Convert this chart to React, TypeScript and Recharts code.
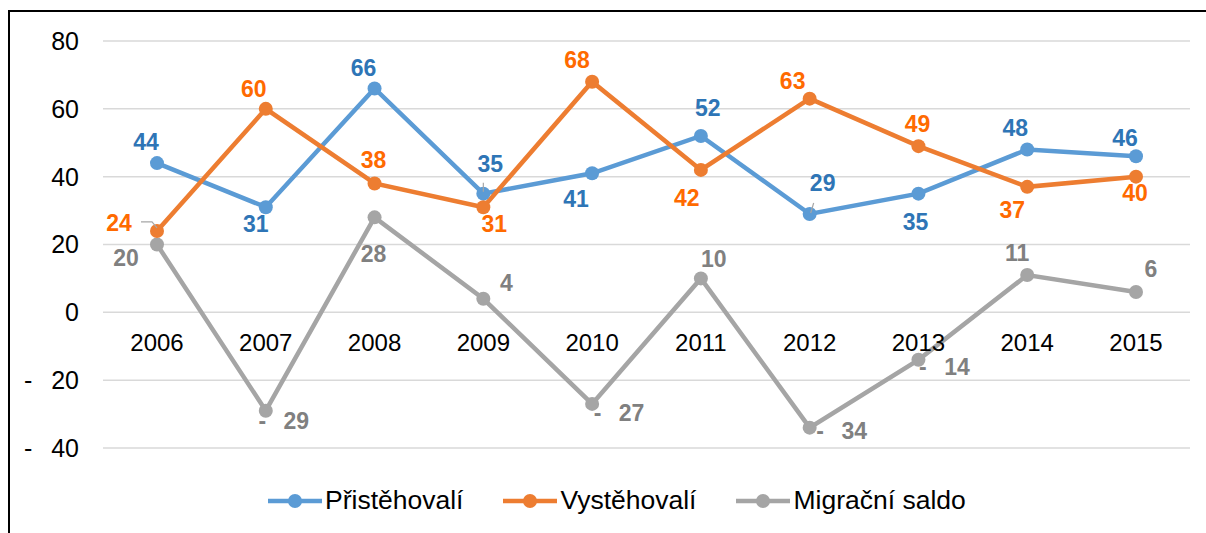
import React from 'react';
import { LineChart, Line, XAxis, YAxis, CartesianGrid, Legend, LabelList, ReferenceDot } from 'recharts';

const years = ['2006', '2007', '2008', '2009', '2010', '2011', '2012', '2013', '2014', '2015'];
const immigrants = [44, 31, 66, 35, 41, 52, 29, 35, 48, 46];
const emigrants = [24, 60, 38, 31, 68, 42, 63, 49, 37, 40];
const netMigration = [20, -29, 28, 4, -27, 10, -34, -14, 11, 6];
const yTicks = [-40, -20, 0, 20, 40, 60, 80];
const seriesNames = ['Přistěhovalí', 'Vystěhovalí', 'Migrační saldo'];

const data = years.map((year, i) => ({
  year,
  prist: immigrants[i],
  vyst: emigrants[i],
  saldo: netMigration[i],
}));

// label offsets from each point (Excel manual placement)
const blueLabelPos: [number, number][] = [[-11, -21], [-10, 17], [-11, -20], [7, -30], [-16, 26], [7, -28], [13, -31], [-3, 28], [-12, -22], [-11, -18]];
const orangeLabelPos: [number, number][] = [[-38, -8], [-12, -20], [-1, -23], [11, 17], [-15, -22], [-14, 28], [-17, -18], [-1, -22], [-15, 23], [-1, 16]];
const grayLabelPos: [number, number][] = [[-31, 13], [18, 10], [-1, 37], [23, -16], [27, 9], [13, -19], [32, 3], [26, 7], [-10, -22], [15, -23]];

const blueLeaders: Record<number, string> = { 3: 'M0,-11 V-2', 6: 'M4,-11 L1,-1' };
const orangeLeaders: Record<number, string> = { 0: 'M-16,-9 H-5 L0,-3' };

const FONT = "'Liberation Sans', Arial, sans-serif";
const BLUE = '#5B9BD5';
const ORANGE = '#ED7D31';
const GRAY = '#A5A5A5';

const fmt = (v: number) => (v < 0 ? `-\u00A0\u00A0\u2009${-v}` : `${v}`);

const makeLabel =
  (color: string, offs: [number, number][], leaders: Record<number, string> = {}) =>
  (props: any) => {
    const { value, index } = props;
    const x = props.x ?? props.viewBox?.x;
    const y = props.y ?? props.viewBox?.y;
    const [dx, dy] = offs[index] || [0, -20];
    return (
      <g>
        {leaders[index] && (
          <path d={leaders[index]} transform={`translate(${x},${y})`} stroke="#A6A6A6" strokeWidth={1.2} fill="none" />
        )}
        <text
          x={x + dx}
          y={y + dy}
          textAnchor="middle"
          dominantBaseline="central"
          fill={color}
          fontSize={23}
          fontWeight="bold"
          fontFamily={FONT}
        >
          {fmt(value)}
        </text>
      </g>
    );
  };

const yearLabel = (yr: string) => (props: any) => {
  const vb = props.viewBox || {};
  const cx = vb.x + (vb.width || 0) / 2;
  const cy = vb.y + (vb.height || 0) / 2;
  return (
    <text x={cx} y={cy + 38.5} textAnchor="middle" fill="#000" fontSize={24} fontFamily={FONT}>
      {yr}
    </text>
  );
};

const renderLegend = (props: any) => {
  const items = [...(props.payload || [])].sort(
    (a: any, b: any) => seriesNames.indexOf(a.value) - seriesNames.indexOf(b.value)
  );
  return (
    <div style={{ display: 'flex', alignItems: 'center', height: 29, paddingLeft: 268 }}>
      {items.map((entry: any) => (
        <div key={entry.value} style={{ display: 'flex', alignItems: 'center', marginRight: 40 }}>
          <svg width={54} height={16}>
            <line x1={0} y1={8} x2={54} y2={8} stroke={entry.color} strokeWidth={4.5} />
            <circle cx={27} cy={8} r={7} fill={entry.color} />
          </svg>
          <span style={{ marginLeft: 3, fontSize: 26.5, color: '#000', fontFamily: FONT, whiteSpace: 'nowrap' }}>
            {entry.value}
          </span>
        </div>
      ))}
    </div>
  );
};

export default function App() {
  return (
    <div style={{ position: 'absolute', left: 0, top: 0, width: 1206, height: 533, background: '#fff', overflow: 'hidden' }}>
      <div
        style={{
          position: 'absolute',
          left: 8,
          top: 10,
          width: 1300,
          height: 600,
          borderLeft: '2px solid #000',
          borderTop: '2px solid #000',
        }}
      />
      <div style={{ position: 'absolute', left: 0, top: 0 }}>
        <LineChart width={1206} height={533} data={data} margin={{ top: 41, right: 16, left: 23, bottom: 85 }}>
          <CartesianGrid vertical={false} stroke="#D9D9D9" strokeWidth={1.5} />
          <XAxis dataKey="year" hide padding={{ left: 54, right: 54 }} />
          <YAxis
            width={80}
            domain={[-40, 80]}
            ticks={yTicks}
            interval={0}
            axisLine={false}
            tickLine={false}
            tickSize={0}
            tickMargin={24}
            tick={{ fill: '#000', fontSize: 25, fontFamily: FONT }}
            tickFormatter={(v: number) => fmt(v)}
          />
          {years.map((yr) => (
            <ReferenceDot key={yr} x={yr} y={0} r={1} fill="none" stroke="none" ifOverflow="visible" label={yearLabel(yr)} />
          ))}
          <Line
            type="linear"
            dataKey="saldo"
            name="Migrační saldo"
            stroke={GRAY}
            strokeWidth={4.5}
            dot={{ r: 7, fill: GRAY, stroke: GRAY, strokeWidth: 0 }}
            activeDot={false}
            isAnimationActive={false}
          >
            <LabelList dataKey="saldo" content={makeLabel('#808080', grayLabelPos)} />
          </Line>
          <Line
            type="linear"
            dataKey="prist"
            name="Přistěhovalí"
            stroke={BLUE}
            strokeWidth={4.5}
            dot={{ r: 7, fill: BLUE, stroke: BLUE, strokeWidth: 0 }}
            activeDot={false}
            isAnimationActive={false}
          >
            <LabelList dataKey="prist" content={makeLabel('#2E75B6', blueLabelPos, blueLeaders)} />
          </Line>
          <Line
            type="linear"
            dataKey="vyst"
            name="Vystěhovalí"
            stroke={ORANGE}
            strokeWidth={4.5}
            dot={{ r: 7, fill: ORANGE, stroke: ORANGE, strokeWidth: 0 }}
            activeDot={false}
            isAnimationActive={false}
          >
            <LabelList dataKey="vyst" content={makeLabel('#FF6A00', orangeLabelPos, orangeLeaders)} />
          </Line>
          <Legend
            content={renderLegend}
            wrapperStyle={{ top: 486, left: 0, bottom: 'auto', width: 1206, height: 0 }}
          />
        </LineChart>
      </div>
    </div>
  );
}
